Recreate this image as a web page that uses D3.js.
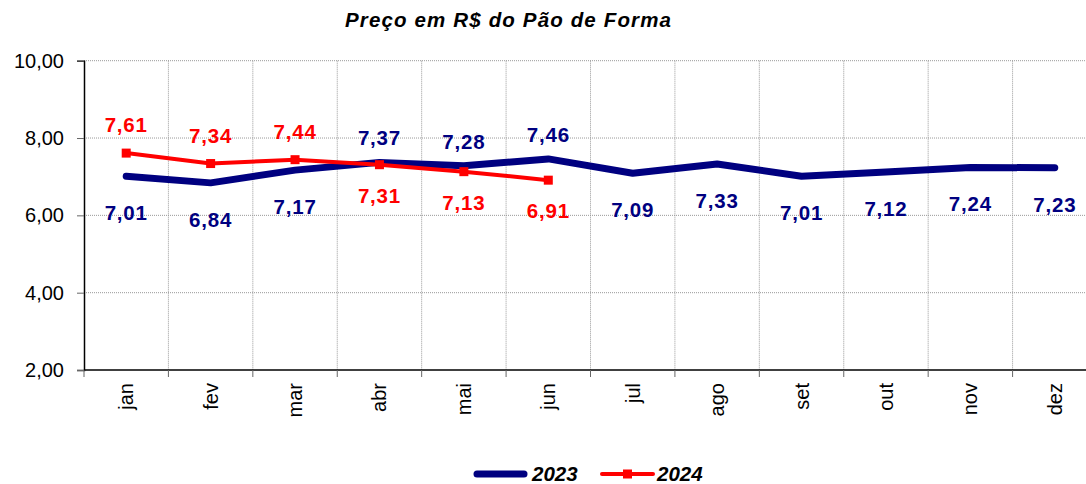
<!DOCTYPE html>
<html><head><meta charset="utf-8">
<script src="https://cdn.jsdelivr.net/npm/d3@7"></script>
<style>body{margin:0;background:#fff}svg{display:block}</style>
</head><body>
<svg id="c" width="1086" height="484"></svg>
<script>
const months = ["jan","fev","mar","abr","mai","jun","jul","ago","set","out","nov","dez"];
const values2023 = [7.01,6.84,7.17,7.37,7.28,7.46,7.09,7.33,7.01,7.12,7.24,7.23];
const values2024 = [7.61,7.34,7.44,7.31,7.13,6.91];
const labelPos2023 = ["below","below","below","above","above","above","below","below","below","below","below","below"];
const labelPos2024 = ["above","above","above","below","below","below"];
const yTicks = [2,4,6,8,10];
const seriesNames = ["2023","2024"];
const title = "Preço em R$ do Pão de Forma";

const svg = d3.select("#c");
const font = "'Liberation Sans', Arial, sans-serif";
const L = 84, R = 1097, T = 60.7, B = 370;
const x = d3.scaleBand().domain(months).range([L, R]).padding(0);
const y = d3.scaleLinear().domain([2, 10]).range([B, T]);
const fmt = v => v.toFixed(2).replace(".", ",");

// title
svg.append("text").attr("x", 345).attr("y", 27)
  .attr("font-family", font).attr("font-weight","bold").attr("font-style","italic")
  .attr("font-size", 20.5).attr("textLength", 326).attr("lengthAdjust", "spacing").text(title);

// horizontal grid
svg.append("g").selectAll("line").data(yTicks.filter(d => d > 2)).join("line")
  .attr("x1", L).attr("x2", R).attr("y1", d => y(d)).attr("y2", d => y(d))
  .attr("stroke", "#999").attr("stroke-width", 1).attr("stroke-dasharray", "1,1");
// vertical grid at category boundaries
const bounds = months.map(m => x(m) + x.bandwidth());
svg.append("g").selectAll("line").data(bounds).join("line")
  .attr("x1", d => d).attr("x2", d => d).attr("y1", T).attr("y2", B)
  .attr("stroke", "#999").attr("stroke-width", 1).attr("stroke-dasharray", "1,1");

// y axis
const yAxis = d3.axisLeft(y).tickValues(yTicks).tickFormat(fmt).tickSize(7).tickPadding(13);
const gy = svg.append("g").attr("transform", `translate(${L},0)`).call(yAxis);
gy.select(".domain").attr("stroke", "#000").attr("stroke-width", 1.5);
gy.selectAll(".tick line").attr("stroke", "#666");
gy.selectAll(".tick text").attr("font-family", font).attr("font-size", 20).attr("fill", "#000");

// x axis
const xAxis = d3.axisBottom(x).tickSize(0).tickPadding(0);
const gx = svg.append("g").attr("transform", `translate(0,${B})`).call(xAxis);
gx.select(".domain").remove();
svg.append("line").attr("x1", L).attr("x2", R).attr("y1", B).attr("y2", B).attr("stroke", "#000").attr("stroke-width", 1.5);
svg.append("g").selectAll("line").data([L].concat(bounds)).join("line")
  .attr("x1", d => d).attr("x2", d => d).attr("y1", B).attr("y2", B + 7).attr("stroke", "#666");
gx.selectAll(".tick text")
  .attr("font-family", font).attr("font-size", 20).attr("fill", "#000")
  .attr("text-anchor", "end").attr("transform", "translate(0,13) rotate(-90)")
  .attr("x", 0).attr("y", 0).attr("dy", "0.35em");

const cx = m => x(m) + x.bandwidth() / 2;
const line = d3.line().x(d => cx(d.m)).y(d => y(d.v));
const d23 = values2023.map((v, i) => ({m: months[i], v, p: labelPos2023[i]}));
const d24 = values2024.map((v, i) => ({m: months[i], v, p: labelPos2024[i]}));

svg.append("path").datum(d23).attr("d", line).attr("fill","none")
  .attr("stroke", "#000080").attr("stroke-width", 7).attr("stroke-linejoin","round").attr("stroke-linecap","round");
svg.append("path").datum(d24).attr("d", line).attr("fill","none")
  .attr("stroke", "#ff0000").attr("stroke-width", 4).attr("stroke-linejoin","round");
svg.append("g").selectAll("rect").data(d24).join("rect")
  .attr("x", d => cx(d.m) - 4.5).attr("y", d => y(d.v) - 4.5).attr("width", 9).attr("height", 9)
  .attr("fill", "#ff0000");

// data labels
svg.append("g").selectAll("text").data(d23).join("text")
  .attr("x", d => cx(d.m)).attr("y", d => y(d.v) + (d.p === "above" ? -17 : 44))
  .attr("text-anchor","middle").attr("font-family", font).attr("font-weight","bold")
  .attr("font-size", 20.5).attr("letter-spacing", 0.8).attr("fill", "#000080").text(d => fmt(d.v));
svg.append("g").selectAll("text").data(d24).join("text")
  .attr("x", d => cx(d.m)).attr("y", d => y(d.v) + (d.p === "above" ? -21 : 38))
  .attr("text-anchor","middle").attr("font-family", font).attr("font-weight","bold")
  .attr("font-size", 20.5).attr("letter-spacing", 0.8).attr("fill", "#ff0000").text(d => fmt(d.v));

// legend
const lg = svg.append("g");
lg.append("line").attr("x1", 477).attr("x2", 524).attr("y1", 474).attr("y2", 474)
  .attr("stroke", "#000080").attr("stroke-width", 7).attr("stroke-linecap","round");
lg.append("text").attr("x", 532).attr("y", 481).attr("font-family", font).attr("font-weight","bold")
  .attr("font-style","italic").attr("font-size", 20.5).text(seriesNames[0]);
lg.append("line").attr("x1", 602).attr("x2", 653).attr("y1", 474).attr("y2", 474)
  .attr("stroke", "#ff0000").attr("stroke-width", 4).attr("stroke-linecap","round");
lg.append("rect").attr("x", 623).attr("y", 469.5).attr("width", 9).attr("height", 9).attr("fill", "#ff0000");
lg.append("text").attr("x", 657).attr("y", 481).attr("font-family", font).attr("font-weight","bold")
  .attr("font-style","italic").attr("font-size", 20.5).text(seriesNames[1]);
</script>
</body></html>
